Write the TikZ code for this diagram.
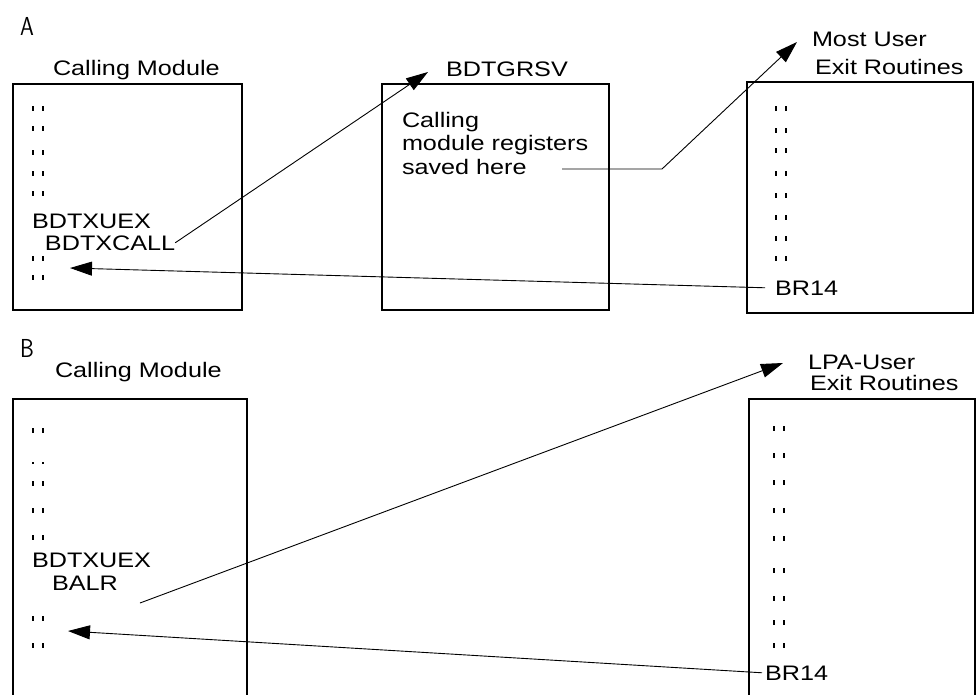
\documentclass[tikz,border=0pt]{standalone}
\usepackage{fontspec}
\setmainfont{Liberation Sans}[FakeStretch=1.2]
\usetikzlibrary{arrows.meta}
\newcommand{\vbars}{\rule{2.2pt}{5pt}\hspace{8pt}\rule{2.2pt}{5pt}}
\newcommand{\vdotsmall}{\rule{2pt}{2.2pt}\hspace{8.2pt}\rule{2pt}{2.2pt}}
\begin{document}
\begin{tikzpicture}[x=1pt,y=-1pt,
  lbl/.style={inner sep=0pt, outer sep=0pt, font=\fontsize{21}{23.5}\selectfont},
  dotrow/.style={inner sep=0pt, outer sep=0pt, anchor=west},
  module/.style={draw, line width=1.2pt, inner sep=0pt, outer sep=0pt, anchor=north west},
  conn/.style={line width=0.9pt},
  tip/.style={-{Triangle[length=22pt,width=14pt]}},
  sect/.style={inner sep=0pt, font=\sffamily\fontsize{26}{26}\selectfont, anchor=base west}]
\useasboundingbox (0,0) rectangle (978,694);
\clip (0,0) rectangle (978,694);

% ---------- Section A ----------
\node[sect] (labA) at (20,35) {\scalebox{0.85}[1]{A}};
\node[lbl, anchor=base west] (titA1) at (53,75) {Calling Module};
\node[module, minimum width=229pt, minimum height=226pt] (boxA1) at (13,84) {};
\foreach \y [count=\i] in {108,128,152,173,193,258,277}
  \node[dotrow] (dA\i) at (32,\y) {\vbars};
\node[lbl, anchor=base west] (uexA) at (32,228) {BDTXUEX};
\node[lbl, anchor=base west] (callA) at (45,250) {BDTXCALL};

\node[lbl, anchor=base west] (titA2) at (446,76) {BDTGRSV};
\node[module, minimum width=227pt, minimum height=226pt] (boxA2) at (382,84) {};
\node[lbl, anchor=north west, align=left] (saved) at (402,112) {Calling\\module registers\\saved here};

\node[lbl, anchor=north west, align=left, font=\fontsize{21}{28}\selectfont] (titA3) at (812,32) {Most User\\\hspace*{3pt}Exit Routines};
\node[module, minimum width=226pt, minimum height=231pt] (boxA3) at (747,82) {};
\foreach \y [count=\i] in {108,130,150,173,195,217,238,258}
  \node[dotrow] (rA\i) at (775,\y) {\vbars};
\node[lbl, anchor=base west] (br14A) at (775,295) {BR14};

\coordinate (tipA1) at (428,72);
\coordinate (startA2) at (562,169);
\coordinate (bendA2) at (662,169);
\coordinate (tipA2) at (797,42);
\coordinate (tipA3) at (70,268);

\draw[conn,tip] (callA.east) -- (tipA1);
\draw[conn,tip] (startA2) -- (bendA2) -- (tipA2);
\draw[conn,tip] ([xshift=-10pt]br14A.west) -- (tipA3);

% ---------- Section B ----------
\node[sect] (labB) at (20,357) {\scalebox{0.85}[1]{B}};
\node[lbl, anchor=base west] (titB1) at (55,377) {Calling Module};
\node[module, minimum width=234pt, minimum height=320pt] (boxB1) at (13,399) {};
\foreach \y [count=\i] in {430,483,510,537,618,645}
  \node[dotrow] (dB\i) at (32,\y) {\vbars};
\node[dotrow] (dBs) at (32,463) {\vdotsmall};
\node[lbl, anchor=base west] (uexB) at (32,567) {BDTXUEX};
\node[lbl, anchor=base west] (balr) at (52,590) {BALR};

\node[lbl, anchor=north west, align=left, font=\fontsize{21}{21}\selectfont] (titB2) at (808,355) {LPA-User\\\hspace*{2pt}Exit Routines};
\node[module, minimum width=226pt, minimum height=320pt] (boxB2) at (749,399) {};
\foreach \y [count=\i] in {428,455,482,510,538,570,598,622,645}
  \node[dotrow] (rB\i) at (773,\y) {\vbars};
\node[lbl, anchor=base west] (br14B) at (765,680) {BR14};

\coordinate (startB1) at (140,603);
\coordinate (tipB1) at (783,363);
\coordinate (tipB2) at (68,631);

\draw[conn,tip] (startB1) -- (tipB1);
\draw[conn,tip] ([xshift=-3pt]br14B.west) -- (tipB2);
\end{tikzpicture}
\end{document}
